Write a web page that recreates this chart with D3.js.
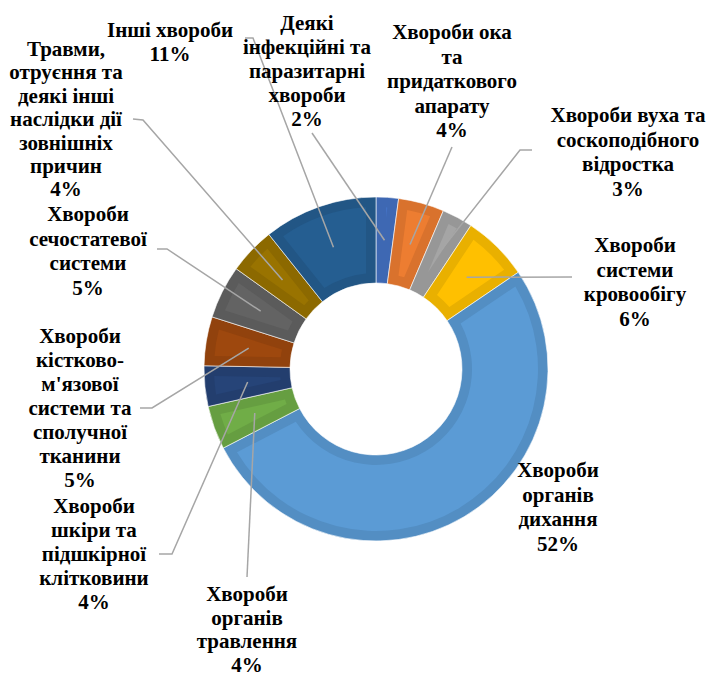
<!DOCTYPE html>
<html>
<head>
<meta charset="utf-8">
<script src="https://cdn.jsdelivr.net/npm/d3@7"></script>
<style>
  body { margin: 0; background: #fff; }
</style>
</head>
<body>
<script>
// categories in clockwise order starting from 12 o'clock
var categories = [
  "Деякі\nінфекційні та\nпаразитарні\nхвороби",
  "Хвороби ока\nта\nпридаткового\nапарату",
  "Хвороби вуха та\nсоскоподібного\nвідростка",
  "Хвороби\nсистеми\nкровообігу",
  "Хвороби\nорганів\nдихання",
  "Хвороби\nорганів\nтравлення",
  "Хвороби\nшкіри та\nпідшкірної\nклітковини",
  "Хвороби\nкістково-\nм'язової\nсистеми та\nсполучної\nтканини",
  "Хвороби\nсечостатевої\nсистеми",
  "Травми,\nотруєння та\nдеякі інші\nнаслідки дії\nзовнішніх\nпричин",
  "Інші хвороби"
]
// share, %
var values = [2.1, 4.3, 2.9, 6.2, 51.9, 4.1, 3.8, 4.6, 5.0, 4.4, 10.7]
var colors = ["#4472C4", "#ED7D31", "#A5A5A5", "#FFC000", "#5B9BD5", "#70AD47",
              "#264478", "#9E480E", "#636363", "#997300", "#255E91"]

// label placement: x centre, first baseline, line step, leader elbow and end (null = none)
var labelPos = [
  { x: 307, y: 30,  step: 24,   elbow: null,       end: [312, 133] },
  { x: 452, y: 39,  step: 24.5, elbow: null,       end: [452, 147] },
  { x: 628, y: 122, step: 24.5, elbow: [520, 150], end: [532, 150] },
  { x: 635, y: 252, step: 24.5, elbow: null,       end: [572, 277] },
  { x: 558, y: 477, step: 24.5, elbow: null,       end: null },
  { x: 247, y: 601, step: 23.6, elbow: null,       end: [247, 577] },
  { x: 94,  y: 513, step: 24,   elbow: [172, 554], end: [159, 554] },
  { x: 80,  y: 343, step: 24,   elbow: [152, 408], end: [140, 408] },
  { x: 88,  y: 221, step: 24.5, elbow: [167, 249], end: [157, 249] },
  { x: 66,  y: 56,  step: 23.4, elbow: [143, 120], end: [133, 119] },
  { x: 170, y: 37,  step: 23.5, elbow: [253, 38],  end: [245, 38] }
]

var w = 708, h = 677
var cx = 376, cy = 369
var rIn = 86, rOut = 172, bevel = 10

var data = categories.map(function (c, i) { return { name: c, value: values[i], color: colors[i], pos: labelPos[i] } })

var svg = d3.select('body').append('svg')
    .attr('width', w)
    .attr('height', h)
var g = svg.append('g')
    .attr('transform', 'translate(' + cx + ',' + cy + ')')

var pie = d3.pie()
    .sort(null)
    .value(function (d) { return d.value })
var arcs = pie(data)

var arc = d3.arc().innerRadius(rIn).outerRadius(rOut)

// inner face of the bevel: slice shrunk by `bevel` px on every side
function face(d) {
  var h90 = Math.PI / 2
  var a0 = d.startAngle, a1 = d.endAngle, mid = (a0 + a1) / 2
  var ro = rOut - bevel, ri = rIn + bevel
  var dOut = Math.asin(bevel / ro)
  var apex = bevel / Math.sin((a1 - a0) / 2)
  var p = d3.path()
  p.moveTo(ro * Math.sin(a0 + dOut), -ro * Math.cos(a0 + dOut))
  p.arc(0, 0, ro, a0 + dOut - h90, a1 - dOut - h90)
  if (apex >= ri) {
    p.lineTo(apex * Math.sin(mid), -apex * Math.cos(mid))
  } else {
    var dIn = Math.asin(bevel / ri)
    p.lineTo(ri * Math.sin(a1 - dIn), -ri * Math.cos(a1 - dIn))
    p.arc(0, 0, ri, a1 - dIn - h90, a0 + dIn - h90, true)
  }
  p.closePath()
  return p.toString()
}

g.selectAll('path.edge')
    .data(arcs)
    .enter()
  .append('path')
    .attr('class', 'edge')
    .attr('d', arc)
    .attr('fill', function (d) { return d3.color(d.data.color).darker(0.25) })
    .attr('stroke', '#fff')
    .attr('stroke-width', 0.6)

g.selectAll('path.face')
    .data(arcs)
    .enter()
  .append('path')
    .attr('class', 'face')
    .attr('d', face)
    .attr('fill', function (d) { return d.data.color })

// leader lines
g.selectAll('polyline')
    .data(arcs.filter(function (d) { return d.data.pos.end }))
    .enter()
  .append('polyline')
    .attr('points', function (d) {
      var p = d.data.pos
      var pts = [arc.centroid(d)]
      if (p.elbow) pts.push([p.elbow[0] - cx, p.elbow[1] - cy])
      pts.push([p.end[0] - cx, p.end[1] - cy])
      return pts.map(function (q) { return q.join(',') }).join(' ')
    })
    .attr('fill', 'none')
    .attr('stroke', '#A6A6A6')
    .attr('stroke-width', 1.5)

// labels
var labels = svg.selectAll('text.lbl')
    .data(arcs)
    .enter()
  .append('text')
    .attr('class', 'lbl')
    .attr('text-anchor', 'middle')
    .attr('font-family', "'Liberation Serif', 'Times New Roman', 'DejaVu Serif', serif")
    .attr('font-weight', 'bold')
    .attr('font-size', 21)
    .attr('fill', '#000')

labels.each(function (d) {
  var t = d3.select(this)
  var lines = d.data.name.split('\n').concat([Math.round(d.data.value) + '%'])
  lines.forEach(function (l, i) {
    t.append('tspan')
      .attr('x', d.data.pos.x)
      .attr('y', d.data.pos.y + i * d.data.pos.step)
      .text(l)
  })
})
</script>
</body>
</html>
